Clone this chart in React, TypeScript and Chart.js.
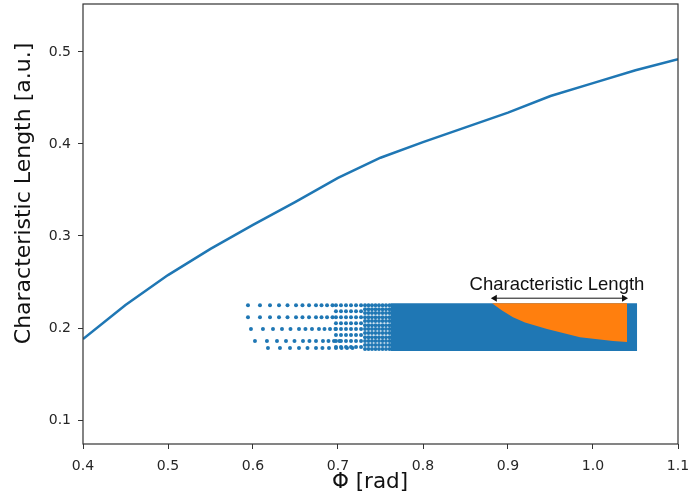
import React, { useEffect, useRef } from "react";
import { Chart, registerables } from "chart.js";

Chart.register(...registerables);

// Main curve
const phi = [0.40, 0.45, 0.50, 0.55, 0.60, 0.65, 0.70, 0.75, 0.80, 0.85, 0.90, 0.95, 1.00, 1.05, 1.10];
const charLength = [0.188, 0.225, 0.2575, 0.286, 0.312, 0.337, 0.363, 0.385, 0.402, 0.418, 0.434, 0.452, 0.466, 0.480, 0.492];

// Axis ticks
const xTicks = [0.4, 0.5, 0.6, 0.7, 0.8, 0.9, 1.0, 1.1];
const yTicks = [0.1, 0.2, 0.3, 0.4, 0.5];
const xRange = [0.4, 1.1];
const yRange = [0.074, 0.552];

// Inset: dense blue band
const bandX = [0.762, 1.0518, 1.0518, 0.762];
const bandY = [0.227, 0.227, 0.175, 0.175];

// Inset: orange region
const orangeX = [0.8812, 1.0400, 1.0400, 1.0235, 0.9847, 0.9459, 0.9200, 0.9059, 0.8930];
const orangeY = [0.2270, 0.2270, 0.1847, 0.1858, 0.1901, 0.1988, 0.2060, 0.2118, 0.2190];

// Inset: double arrow + label
const arrowX = [0.8845, 1.0365];
const arrowY = [0.2324, 0.2324];
const insetLabel = "Characteristic Length";
const insetLabelX = 0.9576;
const insetLabelY = 0.2465;

// Inset: sparse dots (tier A)
const dotsAColsX = [0.5941, 0.6082, 0.6200, 0.6306, 0.6406, 0.6506, 0.6582, 0.6659, 0.6741, 0.6806, 0.6871, 0.6935];
const dotsARowsY = [0.2248, 0.2118, 0.1988, 0.1858, 0.1782];
const dotsARowShift = [0, 0, 0.0035, 0.0082, 0.0235];
// Inset: medium dots (tier B)
const dotsBColsX = [0.6976, 0.7035, 0.7094, 0.7153, 0.7212, 0.7271];
const dotsBRowsY = [0.2248, 0.2183, 0.2118, 0.2053, 0.1988, 0.1923, 0.1858, 0.1793];
// Inset: fine dots (tier C)
const dotsCColsX = [0.7318, 0.7359, 0.7400, 0.7441, 0.7482, 0.7524, 0.7565, 0.7606];
const dotsCRowsY = [0.2248, 0.2205, 0.2162, 0.2118, 0.2075, 0.2031, 0.1988, 0.1945, 0.1901, 0.1858, 0.1815, 0.1771];

const BLUE = "#1f77b4";
const ORANGE = "#ff7f0e";

function grid(cols: number[], rows: number[], shifts?: number[]) {
  const pts: { x: number; y: number }[] = [];
  rows.forEach((y, ri) => {
    const s = shifts ? shifts[ri] : 0;
    cols.forEach((x) => pts.push({ x: x + s, y }));
  });
  return pts;
}

const zip = (xs: number[], ys: number[]) => xs.map((x, i) => ({ x, y: ys[i] }));

const decorPlugin = {
  id: "decor",
  afterDatasetsDraw(chart: any) {
    const { ctx, scales } = chart;
    ctx.save();
    ctx.fillStyle = "#111";
    ctx.font = '18.5px "Liberation Sans", Arial, sans-serif';
    ctx.textAlign = "center";
    ctx.textBaseline = "middle";
    ctx.fillText(insetLabel, scales.x.getPixelForValue(insetLabelX), scales.y.getPixelForValue(insetLabelY));
    ctx.restore();
  },
  afterDraw(chart: any) {
    const { ctx, chartArea: a } = chart;
    ctx.save();
    ctx.strokeStyle = "#333";
    ctx.lineWidth = 1.2;
    ctx.strokeRect(a.left, a.top, a.right - a.left, a.bottom - a.top);
    ctx.fillStyle = "#111";
    ctx.font = '22px "DejaVu Sans", sans-serif';
    ctx.textAlign = "center";
    ctx.textBaseline = "middle";
    ctx.save();
    ctx.translate(24, 193.5);
    ctx.rotate(-Math.PI / 2);
    ctx.fillText("Characteristic Length [a.u.]", 0, 0);
    ctx.restore();
    ctx.font = '21.5px "DejaVu Sans", sans-serif';
    ctx.fillText("Φ [rad]", 370, 482);
    ctx.restore();
  },
};

export default function App() {
  const ref = useRef<HTMLCanvasElement>(null);
  useEffect(() => {
    if (!ref.current) return;
    const tickFont = { family: "DejaVu Sans", size: 14 };
    const chart = new Chart(ref.current, {
      type: "scatter",
      data: {
        datasets: [
          {
            label: "curve",
            data: zip(phi, charLength),
            showLine: true,
            borderColor: BLUE,
            borderWidth: 2.5,
            pointRadius: 0,
            fill: false,
          },
          {
            label: "arrow",
            data: zip(arrowX, arrowY),
            showLine: true,
            borderColor: "#111",
            borderWidth: 1,
            pointStyle: "triangle",
            pointRadius: 4,
            pointRotation: [-90, 90],
            pointBackgroundColor: "#111",
            pointBorderColor: "#111",
            pointBorderWidth: 0,
            fill: false,
          },
          {
            label: "orange",
            data: zip(orangeX, orangeY),
            showLine: true,
            borderWidth: 0,
            borderColor: ORANGE,
            backgroundColor: ORANGE,
            pointRadius: 0,
            fill: "shape",
          },
          {
            label: "band",
            data: zip(bandX, bandY),
            showLine: true,
            borderWidth: 0,
            borderColor: BLUE,
            backgroundColor: BLUE,
            pointRadius: 0,
            fill: "shape",
          },
          {
            label: "dotsC",
            data: grid(dotsCColsX, dotsCRowsY),
            showLine: false,
            pointRadius: 2.0,
            pointBorderWidth: 0,
            pointBackgroundColor: BLUE,
          },
          {
            label: "dotsB",
            data: grid(dotsBColsX, dotsBRowsY),
            showLine: false,
            pointRadius: 2.0,
            pointBorderWidth: 0,
            pointBackgroundColor: BLUE,
          },
          {
            label: "dotsA",
            data: grid(dotsAColsX, dotsARowsY, dotsARowShift),
            showLine: false,
            pointRadius: 2.0,
            pointBorderWidth: 0,
            pointBackgroundColor: BLUE,
          },
        ],
      },
      options: {
        animation: false,
        responsive: false,
        devicePixelRatio: 1,
        layout: { padding: { left: 0, right: 11, top: 3, bottom: 0 } },
        plugins: { legend: { display: false }, tooltip: { enabled: false } },
        scales: {
          x: {
            type: "linear",
            min: xRange[0],
            max: xRange[1],
            afterBuildTicks: (s: any) => {
              s.ticks = xTicks.map((v) => ({ value: v }));
            },
            afterFit: (s: any) => {
              s.height = 58;
              s.paddingLeft = 0;
              s.paddingRight = 0;
              s.paddingTop = 0;
              s.paddingBottom = 0;
            },
            grid: { drawOnChartArea: false, drawTicks: true, tickLength: 5, color: "#333", lineWidth: 1 },
            border: { display: false },
            ticks: {
              font: tickFont,
              color: "#262626",
              padding: 9,
              maxRotation: 0,
              autoSkip: false,
              callback: (v: any) => Number(v).toFixed(1),
            },
          },
          y: {
            type: "linear",
            min: yRange[0],
            max: yRange[1],
            afterBuildTicks: (s: any) => {
              s.ticks = yTicks.map((v) => ({ value: v }));
            },
            afterFit: (s: any) => {
              s.width = 83;
              s.paddingLeft = 0;
              s.paddingRight = 0;
              s.paddingTop = 0;
              s.paddingBottom = 0;
            },
            grid: { drawOnChartArea: false, drawTicks: true, tickLength: 5, color: "#333", lineWidth: 1 },
            border: { display: false },
            ticks: {
              font: tickFont,
              color: "#262626",
              padding: 7,
              autoSkip: false,
              callback: (v: any) => Number(v).toFixed(1),
            },
          },
        },
      },
      plugins: [decorPlugin],
    });
    return () => chart.destroy();
  }, []);
  return (
    <div style={{ position: "fixed", left: 0, top: 0, width: 689, height: 502, background: "#fff" }}>
      <canvas ref={ref} width={689} height={502} style={{ display: "block" }} />
    </div>
  );
}
